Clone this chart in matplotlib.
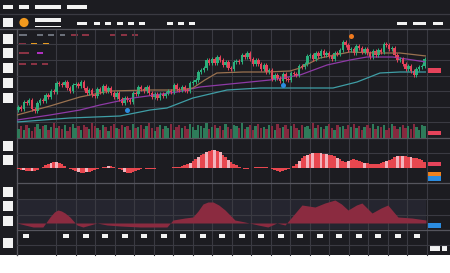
import numpy as np
import matplotlib
matplotlib.use("Agg")
import matplotlib.pyplot as plt
from matplotlib.patches import Rectangle, Circle

W, H = 450, 273

# candle closes (one per period), open = previous close
close = [33, 31, 38, 37, 40, 31, 29, 37, 40, 39,
         45, 43, 49, 48, 57, 56, 55, 58, 52, 49,
         55, 56, 54, 58, 52, 47, 50, 45, 44, 51,
         48, 54, 49, 52, 47, 43, 47, 41, 37, 42,
         40, 38, 47, 46, 53, 51, 49, 53, 47, 43,
         46, 42, 46, 44, 47, 49, 48, 55, 51, 50,
         53, 50, 49, 57, 58, 60, 68, 70, 72, 80,
         77, 81, 77, 83, 80, 75, 78, 72, 71, 78,
         79, 78, 85, 83, 87, 81, 76, 80, 76, 71,
         75, 68, 70, 61, 65, 62, 59, 66, 61, 60,
         67, 66, 65, 74, 73, 76, 84, 85, 81, 87,
         84, 89, 85, 87, 84, 81, 87, 86, 90, 98,
         95, 90, 91, 87, 94, 92, 88, 91, 87, 83,
         89, 85, 90, 88, 96, 95, 91, 92, 85, 80,
         81, 76, 71, 74, 69, 65, 71, 73, 74, 81]
first_open = 30

volume = [9, 12, 8, 13, 10, 7, 11, 14, 9, 12,
          13, 8, 11, 15, 10, 12, 9, 13, 7, 11,
          14, 10, 12, 8, 13, 11, 9, 15, 12, 10,
          8, 13, 11, 7, 12, 14, 10, 9, 13, 11,
          12, 8, 14, 10, 11, 13, 9, 12, 15, 10,
          7, 11, 13, 9, 12, 10, 14, 8, 11, 13,
          10, 12, 9, 14, 11, 8, 13, 12, 10, 15,
          9, 11, 13, 10, 12, 8, 14, 11, 9, 13,
          12, 10, 15, 9, 11, 13, 8, 12, 14, 10,
          11, 9, 13, 12, 8, 14, 10, 11, 13, 9,
          12, 14, 10, 8, 13, 11, 12, 9, 15, 10,
          13, 11, 9, 12, 14, 10, 8, 13, 11, 12,
          9, 13, 11, 14, 10, 12, 8, 11, 13, 10,
          14, 9, 12, 11, 13, 8, 10, 14, 12, 9,
          11, 13, 10, 12, 9, 14, 11, 8, 13, 12]

osc = [-1, -2, -2, -3, -3, -3, -3, -2, 0, 1,
       3, 4, 5, 6, 6, 5, 4, 2, 0, -1,
       -2, -3, -4, -5, -5, -4, -4, -3, -2, -1,
       0, 1, 1, 2, 2, 1, 0, -1, -2, -4,
       -5, -5, -4, -3, -2, -1, 0, -1, -1, -1,
       -1, 0, 0, 0, 0, 0, 0, 1, 1, 1,
       2, 3, 4, 5, 7, 9, 11, 13, 14, 16,
       17, 18, 18, 17, 16, 13, 11, 8, 6, 4,
       3, 1, 0, -1, -1, 0, 0, 1, 1, 1,
       1, 1, 0, -1, -2, -3, -4, -3, -2, -1,
       0, 2, 4, 7, 10, 12, 13, 14, 15, 15,
       15, 15, 14, 14, 13, 13, 12, 10, 9, 7,
       6, 7, 8, 9, 8, 7, 6, 5, 5, 4,
       4, 4, 4, 5, 6, 7, 8, 9, 11, 12,
       12, 12, 12, 11, 11, 10, 10, 9, 8, 6]
osc_light = [2, 5, 12, 14, 22, 25, 33, 39, 63, 66, 69,
             72, 74, 77, 86, 103, 106, 108, 111, 113,
             117, 121, 127, 135, 139, 141, 144]

area_x = [-0.5, 2.4, 5.4, 9.0, 11.6, 13.2, 14.5, 15.8, 17.1, 18.9, 21.5, 23.7,
          26.3, 28.8, 32.5, 37.3, 44.6, 51.9, 54.5, 56.7, 61.1, 64.0, 65.9,
          67.7, 69.5, 71.4, 73.5, 75.8, 79.4, 83.1, 87.9, 91.5, 94.8, 97.8,
          100.3, 104.0, 106.4, 108.8, 112.4, 116.1, 118.5, 120.9, 124.0,
          126.0, 129.7, 133.0, 135.5, 139.2, 144.3, 149.5]
area_v = [0, -2, -4, -4, 6, 11, 13, 12, 10, 6, -2, -4,
          -2, 0, -2, -3, -4, -4, -4, 3, 5, 6, 12,
          19, 21, 21, 18, 13, 3, 1, -2, -4, 0, -2,
          6, 18, 17, 16, 20, 23, 19, 13, 18,
          20, 10, 15, 18, 6, 5, 3]

ma_tan_x = [-0.5, 11.6, 22.6, 33.6, 48.3, 59.3, 64.0, 68.4, 72.8, 82.4, 91.2,
            99.6, 103.3, 110.6, 116.1, 121.6, 131.5, 139.9, 149.5]
ma_tan = [25, 34, 43, 49, 50, 50, 52, 60, 67, 68, 68, 69, 72, 82, 85, 88, 87, 87, 84]
ma_pur_x = [-0.5, 11.6, 22.6, 29.9, 42.0, 58.2, 66.6, 77.6, 92.3, 103.3, 113.2,
            121.6, 127.8, 137.4, 149.5]
ma_pur = [20, 25, 30, 35, 42, 48, 53, 56, 60, 65, 75, 80, 83, 83, 78]
ma_teal_x = [-0.5, 18.9, 37.3, 48.3, 54.5, 64.0, 76.5, 88.6, 103.3, 115.4,
             124.2, 132.6, 139.9, 149.5]
ma_teal = [18, 22, 24, 30, 32, 42, 50, 52, 52, 52, 58, 67, 68, 68]

blue_dots_x = [39.9, 97.0]
blue_dots_y = [30, 55]
orange_dots_x = [121.9]
orange_dots_y = [104]

BG = "#1c1c21"
GRID = "#3a3a42"
SEP = "#55555d"
WHITE = "#f2f2f2"
GREEN = "#2bb07c"
RED = "#e5435b"

fig = plt.figure(figsize=(W / 100, H / 100), dpi=100, facecolor=BG)

deco = fig.add_axes([0, 0, 1, 1], zorder=0)
deco.set_xlim(0, W)
deco.set_ylim(H, 0)
deco.axis("off")


def panel(x0, y0, x1, y1, z=1):
    ax = fig.add_axes([x0 / W, 1 - y1 / H, (x1 - x0) / W, (y1 - y0) / H], zorder=z)
    ax.set_facecolor("none")
    ax.set_axis_off()
    ax.set_xlim(-0.5, len(close) - 0.5)
    return ax


def box(x0, y0, x1, y1, c=WHITE):
    deco.add_patch(Rectangle((x0, y0), x1 - x0, y1 - y0, color=c, lw=0))


# vertical grid + borders
for gx in [17] + list(56 + 19.5 * np.arange(20)):
    deco.plot([gx, gx], [29, 255], color=GRID, lw=0.8)
deco.plot([17, 17], [29, 255], color=SEP, lw=0.9)
deco.plot([0, W], [14, 14], color=GRID, lw=0.9)
deco.plot([0, W], [29, 29], color=SEP, lw=0.9)
for gy in [44, 60, 76, 91, 107, 122, 153, 199, 215, 245]:
    deco.plot([17, W], [gy, gy], color=GRID, lw=0.8)
for gy in [138, 183, 230]:
    deco.plot([17, W], [gy, gy], color=SEP, lw=0.9)
# lighter band of the lower panel
box(17, 199, 426, 229, "#25252f")
box(0, 255, W, H, "#ffffff")

# header placeholders
for x0, x1 in [(3, 13), (19, 29), (35, 61), (67, 87)]:
    box(x0, 5, x1, 9)
box(3, 18, 13, 27)
deco.add_patch(Circle((24, 22.5), 4.6, color="#f39a1e", lw=0))
box(35, 18, 61, 22)
box(35, 25.5, 61, 26.7)
for x0, x1 in [(77, 87), (94, 100), (105, 111), (117, 123), (128, 134),
               (139, 145), (167, 173), (178, 184), (189, 195),
               (397, 407), (413, 426), (433, 443)]:
    box(x0, 21.5, x1, 25)

# legend dashes
GRAYD, MAR, ORA, MAG = "#6b707a", "#8a3344", "#f0a020", "#b030c0"
legend_rows = [
    (35, [(19, 27, GRAYD), (37, 43, GRAYD), (48, 54, GRAYD), (60, 65, GRAYD),
          (71, 78, MAR), (82, 89, MAR), (110, 116, MAR), (121, 127, MAR), (132, 138, MAR)]),
    (44, [(19, 26, MAR), (31, 37, ORA), (43, 49, ORA)]),
    (53, [(19, 29, MAR), (37, 43, MAG)]),
    (64, [(19, 26, MAR), (31, 37, MAR), (42, 48, MAR)]),
]
for yy, segs in legend_rows:
    for x0, x1, c in segs:
        box(x0, yy - 1, x1, yy + 1, c)

# sidebar squares
for yy in [34, 48, 63, 78, 93, 141, 155, 187, 201, 216, 238]:
    box(3, yy, 13, yy + 10)

# x axis label placeholders
for cx in [25.5] + list(66 + 19.5 * np.arange(19)):
    box(cx - 3, 233.5, cx + 3, 237.5)

# right side markers
box(428, 68, 441, 73, RED)
box(428, 131, 441, 135, RED)
box(428, 162, 441, 166, RED)
box(428, 172, 441, 176, "#f0821e")
box(428, 176, 441, 181, "#2b8ce0")
box(428, 223, 441, 228, "#2b8ce0")
box(430, 246, 440, 251)
box(442, 246, 447, 251)

# main candle panel
x = np.arange(len(close))
opens = [first_open] + close[:-1]
up = [c >= o for o, c in zip(opens, close)]
cols = [GREEN if u else RED for u in up]
ax = panel(17, 29, 426, 138, 2)
ax.set_ylim(2, 111)
ax.plot(ma_teal_x, ma_teal, color="#3f9ea6", lw=0.9)
ax.plot(ma_pur_x, ma_pur, color="#8e3aa6", lw=0.9)
ax.plot(ma_tan_x, ma_tan, color="#9a7250", lw=0.9)
lo = np.minimum(opens, close)
hi = np.maximum(opens, close)
ax.vlines(x, lo - 2, hi + 2, colors=cols, lw=0.7)
ax.bar(x, hi - lo, bottom=lo, width=0.9, color=cols, lw=0)
ax.plot(blue_dots_x, blue_dots_y, "o", color="#2b8ce0", ms=3.6, mew=0)
ax.plot(orange_dots_x, orange_dots_y, "o", color="#f07a1e", ms=3.6, mew=0)

# volume
vax = panel(17, 122, 426, 138, 1)
vax.set_ylim(0, 16)
vcols = ["#2e7b5a" if u else "#86293f" for u in up]
vax.bar(x, volume, width=0.85, color=vcols, lw=0)

# oscillator
oax = panel(17, 138, 426, 183, 1)
oax.set_ylim(-15, 30)
ocols = ["#f2b3bc" if i in osc_light else "#e8474f" for i in range(len(osc))]
oax.bar(x, osc, width=1.0, color=ocols, lw=0)

# lower area panel
aax = panel(17, 183, 426, 230, 1)
aax.set_ylim(-7, 40)
aax.fill_between(area_x, area_v, 0, color="#8b2b40", lw=0)

fig.savefig("out.png", dpi=100, facecolor=BG)
